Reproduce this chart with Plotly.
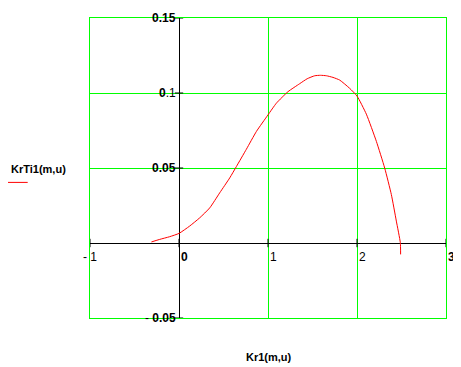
import plotly.graph_objects as go

# Curve values (Kr1(m,u), KrTi1(m,u))
kr1 = [-0.31, -0.217, -0.105, 0.0, 0.12, 0.233, 0.345, 0.457, 0.57, 0.645, 0.757, 0.87,
       1.0, 1.094, 1.225, 1.356, 1.44, 1.525, 1.59, 1.656, 1.73, 1.806, 1.918, 2.0, 2.105,
       2.218, 2.311, 2.386, 2.442, 2.487, 2.49]
krti1 = [0.0007, 0.0024, 0.0042, 0.0064, 0.0113, 0.0168, 0.0234, 0.0334, 0.0434, 0.051, 0.0625, 0.0744,
         0.0854, 0.0932, 0.1009, 0.1062, 0.1095, 0.1115, 0.1118, 0.1115, 0.1104, 0.1086, 0.1031, 0.098, 0.0859,
         0.0677, 0.05, 0.0323, 0.0146, 0.0002, -0.0076]

x_ticks = [-1, 0, 1, 2, 3]
x_tick_labels = ["- 1", "<b>0</b>", "1", "2", "<b>3</b>"]
y_ticks = [0.15, 0.1, 0.05, -0.05]
y_tick_labels = ["<b>0.15</b>", "<b>0</b>.1", "<b>0.05</b>", "- <b>0.05</b>"]

x_title = "<b>Kr1(m,u)</b>"
y_title = "<b>KrTi1(m,u)</b>"

GREEN = "#00ff00"
FONT = "Liberation Sans Narrow, Liberation Sans, Arial"

fig = go.Figure()
fig.add_trace(go.Scatter(x=kr1, y=krti1, mode="lines", line_shape="spline", line_smoothing=0.5,
                         line=dict(color="#ff0000", width=1), hoverinfo="skip"))
# tick marks on the crossing axes
fig.add_trace(go.Scatter(x=[0] * len(y_ticks), y=y_ticks, mode="markers",
                         marker=dict(symbol="line-ew", size=6, line=dict(color="black", width=1))))
fig.add_trace(go.Scatter(x=x_ticks, y=[0] * len(x_ticks), mode="markers",
                         marker=dict(symbol="line-ns", size=6, line=dict(color="black", width=1))))

for xv, lab in zip(x_ticks, x_tick_labels):
    fig.add_annotation(x=xv, y=0, text=lab, showarrow=False, xanchor="left" if xv >= 0 else "center",
                       yanchor="top", yshift=-5, xshift=0,
                       font=dict(family=FONT, size=12, color="black"))
for yv, lab in zip(y_ticks, y_tick_labels):
    fig.add_annotation(x=0, y=yv, text=lab, showarrow=False, xanchor="right", yanchor="middle",
                       xshift=-1, font=dict(family=FONT, size=12, color="black"))

fig.add_annotation(xref="paper", yref="paper", x=-0.146, y=0.497, text=y_title, showarrow=False,
                   xanchor="center", yanchor="middle", font=dict(family=FONT, size=11, color="black"))
fig.add_annotation(xref="paper", yref="paper", x=0.503, y=-0.129, text=x_title, showarrow=False,
                   xanchor="center", yanchor="middle", font=dict(family=FONT, size=11, color="black"))
fig.add_shape(type="line", xref="paper", yref="paper", x0=-0.242, x1=-0.175, y0=0.452, y1=0.452,
              line=dict(color="#ff0000", width=1))

fig.update_layout(
    width=453, height=359,
    margin=dict(l=82, r=15, t=10, b=49),
    paper_bgcolor="white", plot_bgcolor="white",
    showlegend=False,
    xaxis=dict(range=[-1, 3], dtick=1, tick0=-1, showgrid=True, gridcolor=GREEN, gridwidth=1,
               zeroline=True, zerolinecolor="black", zerolinewidth=1,
               showline=True, linecolor=GREEN, linewidth=1, mirror=True,
               showticklabels=False, ticks=""),
    yaxis=dict(range=[-0.05, 0.15], dtick=0.05, tick0=0, showgrid=True, gridcolor=GREEN, gridwidth=1,
               zeroline=True, zerolinecolor="black", zerolinewidth=1,
               showline=True, linecolor=GREEN, linewidth=1, mirror=True,
               showticklabels=False, ticks=""),
)

fig.write_html("out.html")
